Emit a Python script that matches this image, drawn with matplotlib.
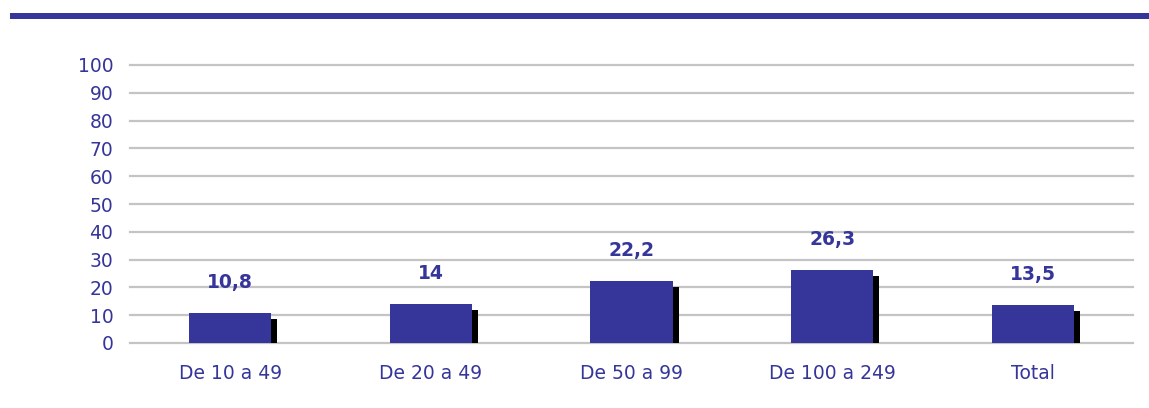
import matplotlib
matplotlib.use("Agg")
import matplotlib.pyplot as plt
from matplotlib.patches import Rectangle

# ---- data ---------------------------------------------------------------
categories = ["De 10 a 49", "De 20 a 49", "De 50 a 99", "De 100 a 249", "Total"]
values = [10.8, 14, 22.2, 26.3, 13.5]
value_labels = ["10,8", "14", "22,2", "26,3", "13,5"]
yticks = list(range(0, 101, 10))

BLUE = "#35359a"
GRID = "#c4c4c4"

fig = plt.figure(figsize=(11.49, 4.08), dpi=100)

# thick band across the top
fig.add_artist(Rectangle((10 / 1149, (408 - 19) / 408), 1 - 10 / 1149, 6 / 408,
                         transform=fig.transFigure, color=BLUE, lw=0))

ax = fig.add_axes([130 / 1149, 65 / 408, 1003 / 1149, 278 / 408])
ax.set_xlim(-0.5, len(categories) - 0.5)
ax.set_ylim(0, 100)

for t in yticks:
    ax.axhline(t, color=GRID, lw=1.6, zorder=0, clip_on=False)

x = range(len(categories))
w = 0.41
# black drop shadow, offset right and down
ax.bar([i + 0.03 for i in x], [v - 2.1 for v in values], width=w,
       color="black", zorder=1)
ax.bar(x, values, width=w, color=BLUE, zorder=2)

for i, v, lab in zip(x, values, value_labels):
    ax.text(i, v + 11, lab, ha="center", va="center", color=BLUE,
            fontsize=13.5, fontweight="bold")

ax.set_xticks(list(x))
ax.set_xticklabels(categories)
ax.set_yticks(yticks)
ax.tick_params(axis="both", length=0, colors=BLUE, labelsize=13.5)
ax.tick_params(axis="y", pad=12)
ax.tick_params(axis="x", pad=15)
for s in ax.spines.values():
    s.set_visible(False)

fig.savefig("out.png", dpi=100)
